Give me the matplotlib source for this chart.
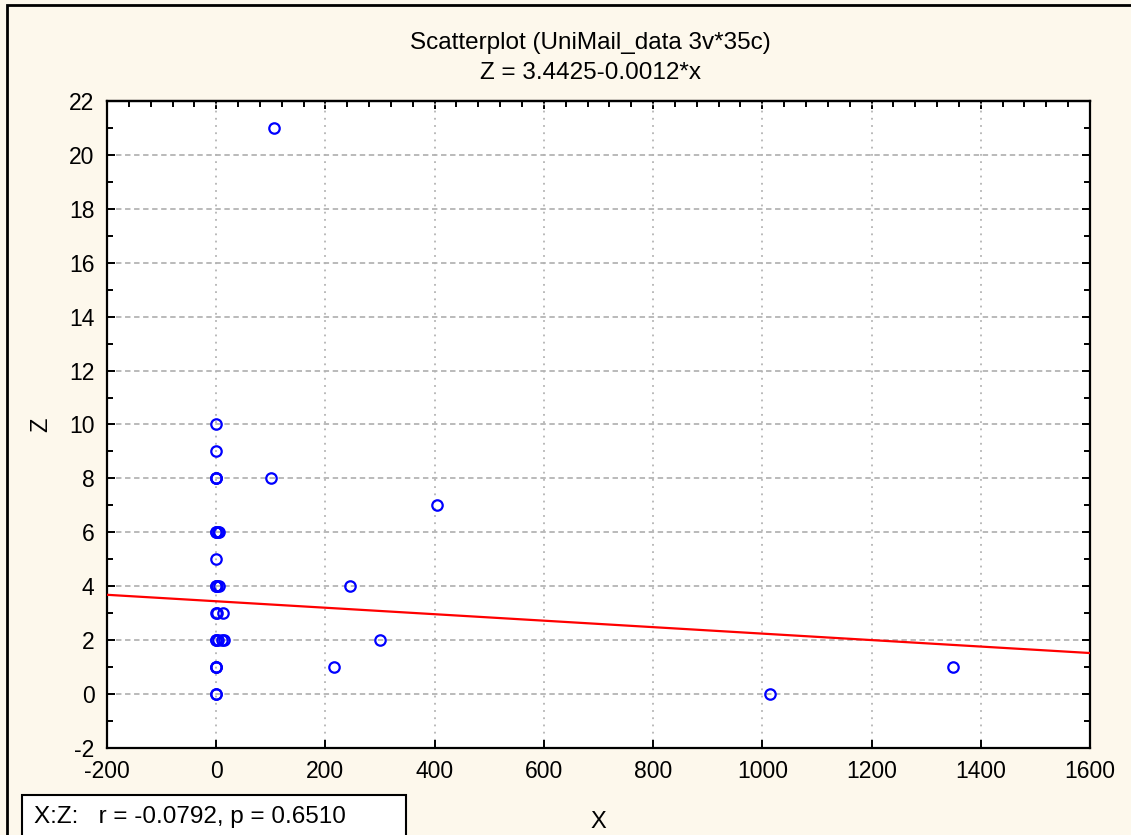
import matplotlib.pyplot as plt
import numpy as np
from matplotlib.ticker import MultipleLocator, NullLocator
from matplotlib.patches import Rectangle

plt.rcParams['font.family'] = ['Liberation Sans', 'DejaVu Sans']
plt.rcParams['axes.unicode_minus'] = False

# UniMail data, 35 cases (points with x near 0 overlap heavily)
x_vals = [0, 0, 0, 0, 100, 0, 3, 6, 0, 0, 2, 5, 1, 12, 0, 3, 10, 14, 0, 0,
          105, 215, 1350, 245, 300, 405, 1015,
          0, 0, 0, 0, 0, 0, 0, 0]
z_vals = [10, 9, 8, 8, 8, 6, 6, 6, 5, 4, 4, 4, 3, 3, 2, 2, 2, 2, 1, 0,
          21, 1, 1, 4, 2, 7, 0,
          0, 1, 2, 4, 6, 3, 8, 1]
intercept = 3.4425
slope = -0.0012
r_val = -0.0792
p_val = 0.6510

bg = '#fdf8ec'
fig = plt.figure(figsize=(11.31, 8.35), dpi=100, facecolor=bg)
ax = fig.add_axes([0.0946, 0.1042, 0.8691, 0.7749])
ax.set_facecolor('white')

xlim = (-200, 1600)
line_x = np.array(xlim)
ax.plot(line_x, intercept + slope * line_x, color='red', lw=1.6, zorder=3)
ax.plot(x_vals, z_vals, 'o', mfc='none', mec='blue', mew=1.6, ms=7.5, zorder=4)

ax.set_xlim(*xlim)
ax.set_ylim(-2, 22)
ax.xaxis.set_major_locator(MultipleLocator(200))
ax.xaxis.set_minor_locator(NullLocator())
ax.yaxis.set_major_locator(MultipleLocator(2))
ax.yaxis.set_minor_locator(MultipleLocator(1))

ax.yaxis.grid(True, which='major', ls=(0, (3, 2)), color='#b4b4b4', lw=1.3)
ax.xaxis.grid(True, which='major', ls=(0, (1, 3)), color='#b4b4b4', lw=1.3)
ax.set_axisbelow(True)

ax.tick_params(which='both', direction='in', left=True, right=True, top=False,
               labelsize=16.5, colors='black', width=1.4)
ax.tick_params(which='major', length=6, pad=9)
ax.tick_params(which='minor', length=4)
sec = ax.secondary_xaxis('top')
sec.xaxis.set_major_locator(MultipleLocator(200))
sec.xaxis.set_minor_locator(MultipleLocator(40))
sec.tick_params(which='both', direction='in', labeltop=False, width=1.4)
sec.tick_params(which='major', length=6)
sec.tick_params(which='minor', length=4)
for s in ax.spines.values():
    s.set_linewidth(1.6)
sec.spines['top'].set_linewidth(1.6)

ax.set_xlabel('X', fontsize=17, labelpad=20)
ax.set_ylabel('Z', fontsize=17, labelpad=12)

fig.text(0.522, 0.949, 'Scatterplot (UniMail_data 3v*35c)', ha='center', va='center', fontsize=17.5)
fig.text(0.522, 0.913, 'Z = 3.4425-0.0012*x', ha='center', va='center', fontsize=17.5)

# outer frame and stats box
fig.patches.append(Rectangle((0.0065, -0.1), 1.2, 1.094, transform=fig.transFigure,
                             fill=False, ec='black', lw=2))
fig.patches.append(Rectangle((0.0195, -0.05), 0.3395, 0.098, transform=fig.transFigure,
                             fill=True, fc='white', ec='black', lw=1.5))
fig.text(0.03, 0.021, 'X:Z:   r = {:.4f}, p = {:.4f}'.format(r_val, p_val),
         ha='left', va='center', fontsize=17.5)

plt.savefig('out.png', dpi=100, facecolor=bg)
